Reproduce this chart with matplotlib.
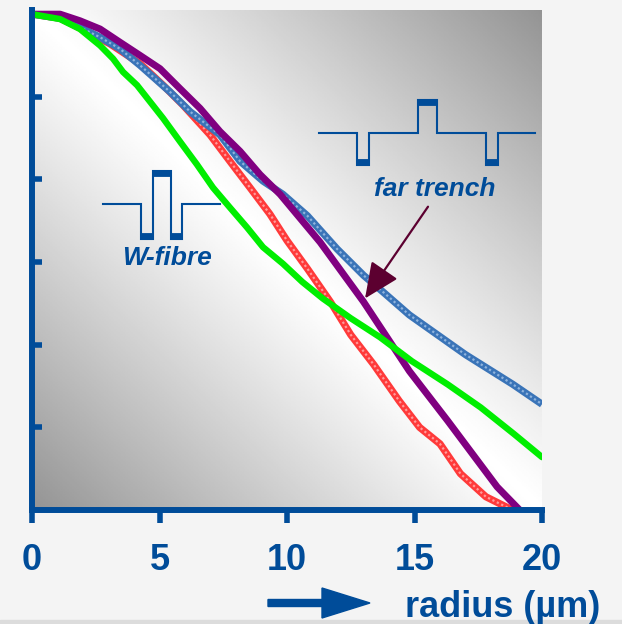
import numpy as np
import matplotlib
matplotlib.use("Agg")
import matplotlib.pyplot as plt
from matplotlib.patches import FancyArrow, Rectangle

plt.rcParams['font.family'] = ['Liberation Sans', 'DejaVu Sans']

# curves (radius in um, normalised field, 0..6)
x_far = [0, 1.1, 1.88, 2.67, 3.45, 4.24, 5.41, 6.20, 7.37, 8.16, 9.06, 9.84,
         10.8, 11.96, 13.0, 13.76, 14.8, 15.9, 17.0, 18.86, 20.0]
y_far = [6.0, 5.95, 5.84, 5.72, 5.58, 5.38, 5.06, 4.82, 4.54, 4.22, 3.98, 3.82,
         3.56, 3.16, 2.84, 2.64, 2.36, 2.12, 1.88, 1.52, 1.28]

x_red = [0, 1.1, 1.88, 3.06, 4.24, 5.14, 5.92, 6.98, 7.76, 8.55, 9.33, 10.0,
         10.8, 11.7, 12.5, 13.4, 14.4, 15.2, 16.0, 16.8, 17.8, 19.1]
y_red = [6.0, 5.95, 5.83, 5.64, 5.40, 5.14, 4.90, 4.54, 4.22, 3.90, 3.58, 3.26,
         2.92, 2.52, 2.12, 1.76, 1.32, 1.00, 0.80, 0.44, 0.16, -0.04]

x_w = [0, 1.10, 1.88, 2.67, 3.18, 3.57, 4.12, 4.63, 5.14, 5.80, 6.47, 7.10,
       7.76, 8.43, 9.06, 9.84, 10.6, 11.4, 12.5, 13.65, 14.9, 16.3, 17.6,
       18.9, 20.0]
y_w = [6.0, 5.94, 5.82, 5.62, 5.46, 5.30, 5.14, 4.94, 4.74, 4.46, 4.18, 3.90,
       3.66, 3.42, 3.18, 2.98, 2.76, 2.56, 2.32, 2.09, 1.80, 1.52, 1.24,
       0.92, 0.64]

x_pur = [0, 1.10, 1.88, 2.67, 3.45, 4.24, 5.02, 5.80, 6.59, 7.37, 8.16, 8.94,
         9.73, 11.3, 13.0, 14.8, 16.3, 18.24, 19.25]
y_pur = [6.0, 6.0, 5.92, 5.82, 5.66, 5.50, 5.34, 5.10, 4.86, 4.58, 4.34, 4.06,
         3.82, 3.24, 2.52, 1.68, 1.08, 0.28, -0.04]

xticks = [0, 5, 10, 15, 20]
yticks = [1, 2, 3, 4, 5, 6]

blue = '#004c99'

fig = plt.figure(figsize=(6.22, 6.24), dpi=100, facecolor='#f4f4f4')
ax = fig.add_axes([32 / 622, 114 / 624, 510 / 622, 500 / 624])

# grey gradient behind the plot, white along the diagonal
u, v = np.meshgrid(np.linspace(0, 1, 300), np.linspace(0, 1, 300))
shade = 1 - 0.42 * np.abs(u - v) ** 1.1
ax.imshow(shade, extent=[0, 20, 0, 6.05], cmap='gray', vmin=0, vmax=1,
          aspect='auto', zorder=0, interpolation='bilinear')

ax.plot(x_red, y_red, color='#ff3a3a', lw=5.2, zorder=2, solid_capstyle='butt')
ax.plot(x_red, y_red, color='#ff9a9a', lw=1.6, ls=(0, (1, 1.2)), zorder=2)
ax.plot(x_far, y_far, color='#3a74b8', lw=5.2, zorder=3, solid_capstyle='butt')
ax.plot(x_far, y_far, color='#8fb3dd', lw=1.6, ls=(0, (1, 1.2)), zorder=3)
ax.plot(x_pur, y_pur, color='#800080', lw=5.0, zorder=4)
ax.plot(x_w, y_w, color='#00ee00', lw=4.6, zorder=5, solid_capstyle='round')


def profile(xs, ys, bars):
    ax.plot(xs, ys, color=blue, lw=1.5, zorder=6, solid_joinstyle='miter')
    for x0, x1, y in bars:
        ax.plot([x0, x1], [y, y], color=blue, lw=4.2, zorder=6,
                solid_capstyle='butt')


# W-fibre index profile
profile([2.78, 4.27, 4.27, 4.73, 4.73, 5.45, 5.45, 5.90, 5.90, 7.37],
        [3.70, 3.70, 3.28, 3.28, 4.10, 4.10, 3.28, 3.28, 3.70, 3.70],
        [(4.27, 4.73, 3.31), (4.73, 5.45, 4.07), (5.45, 5.90, 3.31)])
ax.text(5.29, 2.96, 'W-fibre', color=blue, fontsize=19, fontweight='bold',
        fontstyle='italic', ha='center', va='baseline', zorder=6)

# far trench index profile
profile([11.25, 12.75, 12.75, 13.22, 13.22, 15.14, 15.14, 15.88, 15.88, 17.80,
         17.80, 18.27, 18.27, 19.73],
        [4.56, 4.56, 4.18, 4.18, 4.56, 4.56, 4.96, 4.96, 4.56, 4.56,
         4.18, 4.18, 4.56, 4.56],
        [(12.75, 13.22, 4.21), (15.14, 15.88, 4.93), (17.80, 18.27, 4.21)])
ax.text(15.8, 3.80, 'far trench', color=blue, fontsize=19, fontweight='bold',
        fontstyle='italic', ha='center', va='baseline', zorder=6)

ax.annotate('', xy=(13.06, 2.56), xytext=(15.53, 3.67), zorder=7,
            arrowprops=dict(arrowstyle='-|>,head_length=1.0,head_width=0.45',
                            color='#5c0030', lw=1.6, mutation_scale=22,
                            shrinkA=0, shrinkB=0))

ax.set_xlim(0, 20)
ax.set_ylim(0, 6.05)
ax.set_xticks(xticks)
ax.set_yticks(yticks)
ax.set_yticklabels([])
for s in ['top', 'right']:
    ax.spines[s].set_visible(False)
for s in ['left', 'bottom']:
    ax.spines[s].set_color(blue)
    ax.spines[s].set_linewidth(4.3)
    ax.spines[s].set_zorder(8)
ax.tick_params(axis='x', direction='out', length=9, width=4, color=blue,
               labelsize=26, labelcolor=blue, pad=15)
ax.tick_params(axis='y', direction='in', length=7, width=4, color=blue)
for lab in ax.get_xticklabels():
    lab.set_fontweight('bold')

# axis title with its arrow
fig.add_artist(FancyArrow(268 / 622, 21 / 624, 102 / 622, 0, width=7 / 624,
                          head_width=30 / 624, head_length=48 / 622,
                          length_includes_head=True, color=blue,
                          transform=fig.transFigure))
fig.text(405 / 622, 7 / 624, 'radius (µm)', color=blue, fontsize=26,
         fontweight='bold', ha='left', va='baseline')
fig.add_artist(Rectangle((0, 0), 1, 4 / 624, transform=fig.transFigure,
                         color='#dcdcdc', zorder=0))

fig.savefig('out.png', dpi=100, facecolor=fig.get_facecolor())
